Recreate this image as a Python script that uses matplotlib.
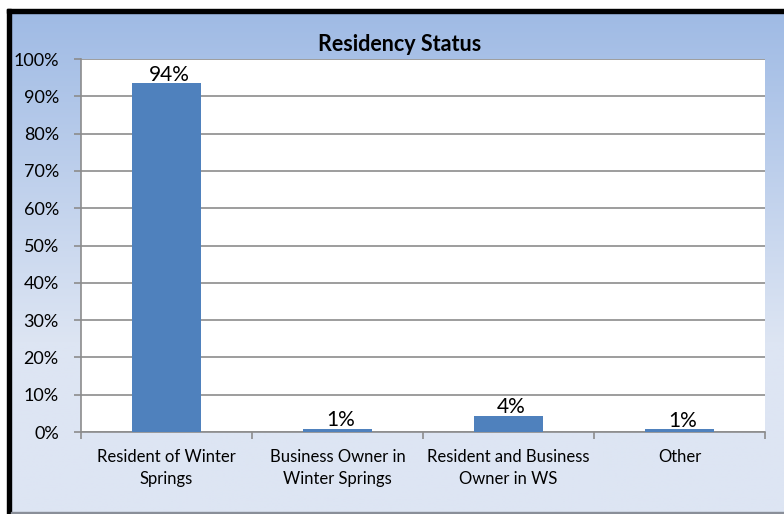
import numpy as np
import matplotlib
matplotlib.use("Agg")
import matplotlib.pyplot as plt
from matplotlib.patches import Rectangle
from matplotlib.ticker import PercentFormatter

categories = ["Resident of Winter\nSprings", "Business Owner in\nWinter Springs",
              "Resident and Business\nOwner in WS", "Other"]
values = [93.5, 0.8, 4.4, 0.7]
labels = ["94%", "1%", "4%", "1%"]

plt.rcParams['font.family'] = ['Lato', 'DejaVu Sans']

fig = plt.figure(figsize=(7.84, 5.14), dpi=100)

# gradient background
bg = fig.add_axes([0, 0, 1, 1], zorder=-10)
top = np.array([157, 185, 228]) / 255
bot = np.array([221, 229, 243]) / 255
t = np.linspace(0, 1, 256)[:, None]
tt = np.clip(t * 1.5, 0, 1)
grad = top * (1 - tt) + bot * tt
bg.imshow(grad[:, None, :].repeat(2, axis=1), aspect='auto', extent=[0, 1, 0, 1])
bg.set_xlim(0, 1)
bg.set_ylim(0, 1)
bg.axis('off')

# frame lines
fig.patches.append(Rectangle((0, 0.983), 1, 0.017, transform=fig.transFigure, color='white', zorder=-5))
fig.patches.append(Rectangle((0, 0), 0.009, 1, transform=fig.transFigure, color='white', zorder=-5))
fig.patches.append(Rectangle((0.009, 0.0), 0.005, 0.983, transform=fig.transFigure, color='black', zorder=-4))
fig.patches.append(Rectangle((0.009, 0.975), 0.991, 0.008, transform=fig.transFigure, color='black', zorder=-4))
fig.patches.append(Rectangle((0.014, 0.0), 0.986, 0.004, transform=fig.transFigure, color='#8a8f99', zorder=-4))

ax = fig.add_axes([0.1033, 0.1595, 0.8725, 0.7257])
ax.set_facecolor('white')
x = np.arange(len(categories))
ax.bar(x, values, width=0.4, color='#4F81BD', zorder=3)
for xi, v, lab in zip(x, values, labels):
    ax.annotate(lab, (xi, v), xytext=(2, -1), textcoords='offset points',
                ha='center', va='bottom', fontsize=15, zorder=4)

ax.set_ylim(0, 100)
ax.set_xlim(-0.5, 3.5)
ax.set_yticks(np.arange(0, 101, 10))
ax.yaxis.set_major_formatter(PercentFormatter(decimals=0))
ax.grid(axis='y', color='#8c8c8c', linewidth=1.2, zorder=0)
ax.set_xticks(x)
ax.set_xticklabels(categories, fontsize=12, linespacing=1.45)
ax.set_xticks(np.arange(-0.5, 3.6, 1), minor=True)
ax.tick_params(axis='x', which='major', length=0, pad=12)
ax.tick_params(axis='x', which='minor', length=5, color='#8c8c8c', width=1.2)
ax.tick_params(axis='y', length=5, color='#8c8c8c', width=1.2, labelsize=13, pad=11)
for s in ['top', 'right']:
    ax.spines[s].set_visible(False)
for s in ['left', 'bottom']:
    ax.spines[s].set_color('#8c8c8c')
    ax.spines[s].set_linewidth(1.2)

fig.text(0.51, 0.9, "Residency Status", ha='center', va='baseline', fontsize=15.5, fontweight='bold')

fig.savefig("out.png", dpi=100)
